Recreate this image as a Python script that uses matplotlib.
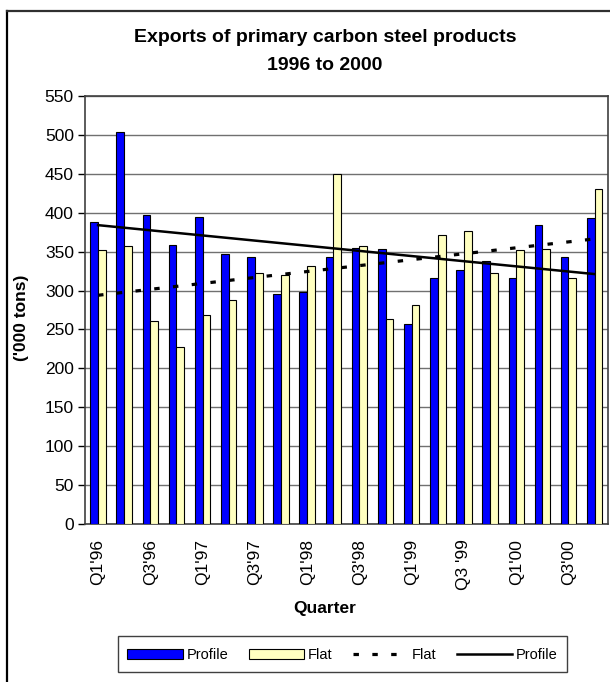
import numpy as np
import matplotlib
matplotlib.use("Agg")
import matplotlib.pyplot as plt
from matplotlib.patches import Rectangle, Patch
from matplotlib.lines import Line2D

plt.rcParams['font.family'] = ['Liberation Sans', 'DejaVu Sans']

quarters = ["Q1'96", "Q2'96", "Q3'96", "Q4'96",
            "Q1'97", "Q2'97", "Q3'97", "Q4'97",
            "Q1'98", "Q2'98", "Q3'98", "Q4'98",
            "Q1'99", "Q2'99", "Q3 '99", "Q4'99",
            "Q1'00", "Q2'00", "Q3'00", "Q4'00"]
profile = [388, 504, 397, 359, 395, 347, 343, 295, 298, 343,
           355, 354, 257, 316, 327, 338, 316, 384, 343, 393]
flat = [352, 357, 261, 227, 268, 288, 323, 320, 332, 450,
        357, 263, 281, 371, 377, 323, 352, 354, 316, 431]

W, H = 610, 682
fig = plt.figure(figsize=(W / 100, H / 100), dpi=100)

def fx(px):
    return px / W

def fy(py):
    return 1 - py / H

ax_l, ax_r, ax_t, ax_b = 85, 607.7, 96, 524
ax = fig.add_axes([fx(ax_l), fy(ax_b), fx(ax_r) - fx(ax_l), fy(ax_t) - fy(ax_b)])

x = np.arange(len(quarters))
bw = 0.295
ax.bar(x - bw / 2, profile, width=bw, color='#0000FF', edgecolor='black', linewidth=0.8, zorder=3)
ax.bar(x + bw / 2, flat, width=bw, color='#FFFFC0', edgecolor='black', linewidth=0.8, zorder=3)

# linear trendlines (Excel style) over positions 1..20
t = np.arange(1, len(quarters) + 1)
pf = np.polyfit(t, flat, 1)
pp = np.polyfit(t, profile, 1)
ax.plot(x, np.polyval(pf, t), color='black', linewidth=2.3, linestyle=(0, (1.7, 4.2)), zorder=4)
ax.plot(x, np.polyval(pp, t), color='black', linewidth=1.8, zorder=4)

ax.set_xlim(-0.5, len(quarters) - 0.5)
ax.set_ylim(0, 550)
ax.set_yticks(np.arange(0, 551, 50))
ax.yaxis.grid(True, color='#707070', linewidth=1.0, zorder=0)
ax.set_axisbelow(True)
ax.tick_params(axis='y', direction='out', length=5, width=1, labelsize=12.5, pad=3, colors='black')
ax.set_xticks(x[::2])
ax.set_xticklabels(quarters[::2], rotation=90, fontsize=12.5)
ax.tick_params(axis='x', length=0, pad=11)
for s in ax.spines.values():
    s.set_color('#404040')
    s.set_linewidth(1.2)

# titles and axis labels
fig.text(fx(325), fy(37), "Exports of primary carbon steel products", ha='center', va='center',
         fontsize=14, fontweight='bold')
fig.text(fx(325), fy(65), "1996 to 2000", ha='center', va='center', fontsize=14, fontweight='bold')
fig.text(fx(22), fy(318), "('000 tons)", ha='center', va='center', rotation=90,
         fontsize=12.5, fontweight='bold')
fig.text(fx(325), fy(609), "Quarter", ha='center', va='center', fontsize=12.5, fontweight='bold')

# outer chart border (left & top visible)
fig.add_artist(Line2D([fx(6.5), fx(6.5)], [fy(10.5), 0], color='black', linewidth=1.6))
fig.add_artist(Line2D([fx(6.5), 1], [fy(10.5), fy(10.5)], color='#303030', linewidth=1.6))

# legend box
lg_l, lg_r, lg_t, lg_b = 118, 567, 636, 672
fig.add_artist(Rectangle((fx(lg_l), fy(lg_b)), fx(lg_r) - fx(lg_l), fy(lg_t) - fy(lg_b),
                         transform=fig.transFigure, facecolor='white', edgecolor='#404040', linewidth=1.0))
handles = [Patch(facecolor='#0000FF', edgecolor='black', linewidth=0.8),
           Patch(facecolor='#FFFFC0', edgecolor='black', linewidth=0.8),
           Line2D([], [], color='black', linewidth=2.3, linestyle=(0, (1.7, 4.2))),
           Line2D([], [], color='black', linewidth=1.8)]
labels = ['Profile', 'Flat', 'Flat', 'Profile']
fig.legend(handles, labels, loc='center', bbox_to_anchor=(fx((lg_l + lg_r) / 2), fy(655)),
           ncol=4, frameon=False, fontsize=10.5, handlelength=3.8, handleheight=0.7,
           handletextpad=0.25, columnspacing=1.4, borderpad=0)

fig.savefig('out.png', dpi=100)
